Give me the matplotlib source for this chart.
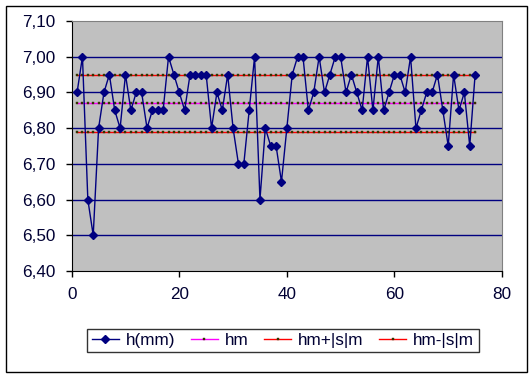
import matplotlib
matplotlib.use("Agg")
import matplotlib.pyplot as plt
from matplotlib.patches import Rectangle

# Messwerte h(mm) fuer Versuch 1..75
nr = list(range(1, 76))
h = [6.90, 7.00, 6.60, 6.50, 6.80, 6.90, 6.95, 6.85, 6.80, 6.95,
     6.85, 6.90, 6.90, 6.80, 6.85, 6.85, 6.85, 7.00, 6.95, 6.90,
     6.85, 6.95, 6.95, 6.95, 6.95, 6.80, 6.90, 6.85, 6.95, 6.80,
     6.70, 6.70, 6.85, 7.00, 6.60, 6.80, 6.75, 6.75, 6.65, 6.80,
     6.95, 7.00, 7.00, 6.85, 6.90, 7.00, 6.90, 6.95, 7.00, 7.00,
     6.90, 6.95, 6.90, 6.85, 7.00, 6.85, 7.00, 6.85, 6.90, 6.95,
     6.95, 6.90, 7.00, 6.80, 6.85, 6.90, 6.90, 6.95, 6.85, 6.75,
     6.95, 6.85, 6.90, 6.75, 6.95]
hm = 6.870
sm = 0.080

yticks = [6.40, 6.50, 6.60, 6.70, 6.80, 6.90, 7.00, 7.10]
xticks = [0, 20, 40, 60, 80]

plt.rcParams['font.family'] = ['Liberation Sans', 'DejaVu Sans']
txt = '#000033'

fig = plt.figure(figsize=(5.32, 3.77), dpi=100)
ax = fig.add_axes([71.7/532, 1 - 271/377, (502 - 71.7)/532, (271 - 21)/377])
ax.set_facecolor('#C0C0C0')

for yy in yticks[1:-1]:
    ax.axhline(yy, color='#000080', lw=1.0, zorder=1)

mk = '#333300'
ax.plot(nr, [hm]*len(nr), color='#FF00FF', lw=1, marker='s', ms=1.6,
        mfc=mk, mec=mk, mew=0.3, label='hm', zorder=2)
ax.plot(nr, [hm + sm]*len(nr), color='#FF0000', lw=1, marker='s', ms=1.6,
        mfc=mk, mec=mk, mew=0.3, label='hm+|s|m', zorder=2)
ax.plot(nr, [hm - sm]*len(nr), color='#FF0000', lw=1, marker='s', ms=1.6,
        mfc=mk, mec=mk, mew=0.3, label='hm-|s|m', zorder=2)
ax.plot(nr, h, color='#000080', lw=1, marker='D', ms=4.5,
        label='h(mm)', zorder=3)

ax.set_xlim(0, 80)
ax.set_ylim(6.40, 7.10)
ax.set_xticks(xticks)
ax.set_yticks(yticks)
ax.set_yticklabels([('%.2f' % v).replace('.', ',') for v in yticks])
ax.tick_params(direction='out', length=4.5, width=1, colors='black',
               labelcolor=txt, labelsize=12.3, pad=7)

for side in ['top', 'right']:
    ax.spines[side].set_color('#808080')
for side in ['left', 'bottom']:
    ax.spines[side].set_color('black')

handles, labels = ax.get_legend_handles_labels()
order = [3, 0, 1, 2]
leg = fig.legend([handles[i] for i in order], [labels[i] for i in order],
                 ncol=4, loc='center', bbox_to_anchor=(283/532, 1 - 340.5/377),
                 frameon=True, fancybox=False, fontsize=12.3,
                 handlelength=1.6, handletextpad=0.4, columnspacing=0.9,
                 borderpad=0.25, borderaxespad=0, edgecolor='black')
leg.get_frame().set_linewidth(1)
for t in leg.get_texts():
    t.set_color(txt)

fig.patches.append(Rectangle((5.5/532, 1 - 371.5/377), 521/532, 366/377,
                             transform=fig.transFigure, fill=False,
                             edgecolor='black', lw=1))

fig.savefig('out.png', dpi=100)
